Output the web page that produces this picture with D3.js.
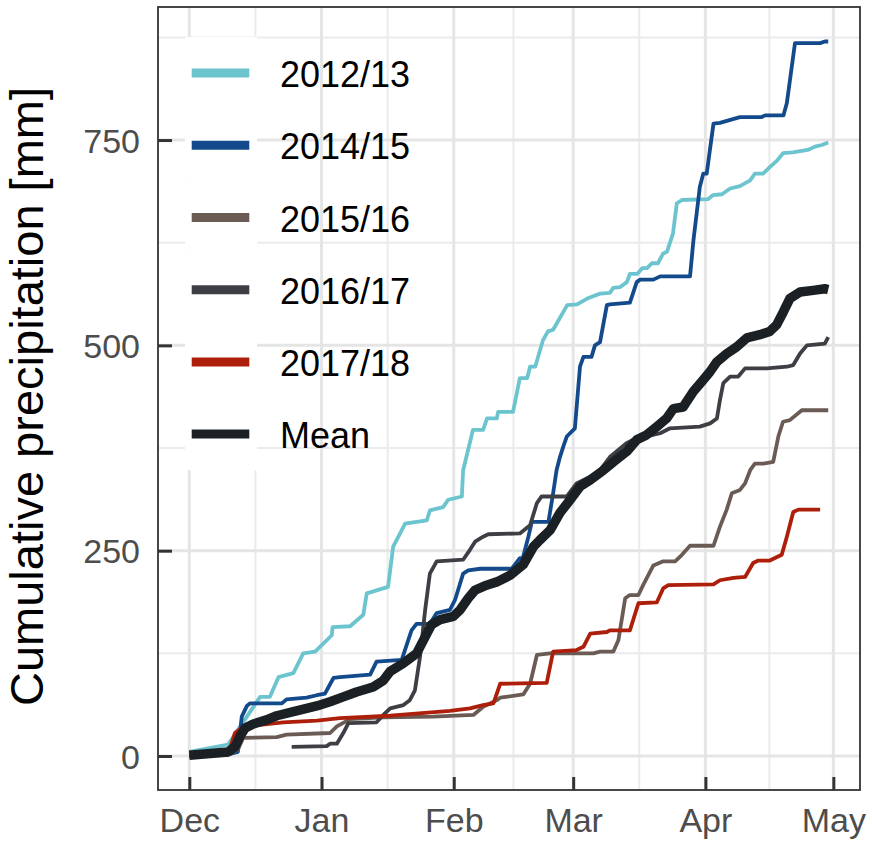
<!DOCTYPE html>
<html><head><meta charset="utf-8">
<script src="https://cdn.jsdelivr.net/npm/d3@7"></script>
<style>body{margin:0;background:#fff}</style>
</head><body>
<svg id="chart" width="872" height="848"></svg>
<script>
// ---- data (day = days since 1 December) ----
const monthTicks = ["2012-12-01","2013-01-01","2013-02-01","2013-03-01","2013-04-01","2013-05-01"];
const monthLabels = ["Dec","Jan","Feb","Mar","Apr","May"];
const yTicks = [0, 250, 500, 750];
const yMinor = [125, 375, 625, 875];
const seriesNames = ["2012/13","2014/15","2015/16","2016/17","2017/18","Mean"];
const seriesColors = ["#6cc4cf","#134a8c","#6b5b55","#3e3e45","#ad1f0b","#1b2025"];

const days1213 = [0,9.1,13.5,16.6,18.9,20.9,24.4,26.7,29.5,33.4,33.6,37.7,40.8,41.6,46.6,47.8,48.6,50.6,55.7,56.4,59.5,60.7,63.9,64.2,66.5,68.9,69.8,72.1,72.4,75.9,77.5,79.2,79.9,81.1,82.9,84.1,85.3,88.6,90.9,93.3,96.3,98.6,99.4,101,102.6,103.3,105,106.2,107.3,108.5,109.9,111.1,112,113.4,114.3,115.5,121.6,122.8,124.9,126.8,129.1,131.5,132.6,134.5,136.1,137.8,139.2,141.5,145,146.7,148.3,149.8];
const vals1213 = [5,14,48,72,72,96,101,125,127,147,157,158,172,198,206,255,263,283,287,299,303,312,316,348,397,397,411,411,419,419,460,460,474,474,506,517,519,549,550,557,563,564,570,571,577,587,587,594,594,600,600,612,614,636,673,677,678,683,684,691,694,701,709,709,717,725,734,735,738,742,744,747];

const days1415 = [0,9.1,11.4,12.3,13.5,14.2,21.7,22.8,27.5,29.9,31.8,33.8,35.3,42.4,43.9,49.8,52.1,53.3,56.4,58,61.1,62.3,64.2,65.4,68.2,75.6,77.5,78.2,79.5,80.3,84.2,85.3,86.1,86.9,87.7,88.5,90.4,91.6,92.4,94.3,95.1,96.3,97.9,98.6,103.3,104.9,105.7,108.8,110.4,117.4,118.2,119.7,120.5,121.3,122.9,124.4,129.1,134.2,135,139.3,140.1,142,147.9,149,149.8];
const vals1415 = [0,2,5,48,61,64,64,69,71,74,76,95,96,99,115,117,153,161,161,174,178,190,222,226,228,228,241,241,267,285,285,320,348,364,377,389,399,474,486,486,500,504,549,550,552,577,580,580,584,584,628,693,709,709,770,771,778,778,780,780,795,868,868,870,870];

const days1516 = [0,9.1,11.4,12.6,20.5,22.8,33,34.6,37.7,45.4,57.2,66.6,68.9,72.1,72.9,78.3,79.9,81.5,84.6,94.7,96.3,99.4,100.6,102.2,103.3,105.3,106.4,108.8,111.1,113.9,115.5,117.4,122.9,124.4,126,127.2,129.1,130.3,131.5,132.6,134.6,136.9,138.1,139.2,140.8,143.6,149.8];
const vals1516 = [0,2,8,22,23,26,28,36,45,47,48,50,60,68,71,75,88,123,125,125,127,127,141,192,196,196,208,232,237,237,245,256,256,279,300,320,324,332,348,356,356,358,389,407,409,421,421];

const days1617 = [24,32.2,33,34.6,36.1,37.3,43.9,45.5,47.1,50.2,51.7,52.9,54.1,55.3,56.4,58,64.2,65.8,67,68.9,70.1,77.5,79.9,81.5,82.6,88.5,90.8,94,96.3,98.6,102.5,104.1,107.2,110.4,112.7,119.7,122.1,123.7,124.4,125.2,126.8,128.7,130.3,135.4,140.1,141.6,143.2,144.8,149,149.8];
const vals1617 = [11,12,15,15,28,40,41,50,58,62,68,80,121,178,222,237,239,251,261,267,270,271,281,308,316,316,332,340,348,364,381,385,389,393,399,401,405,411,433,454,462,462,472,472,474,476,490,500,502,510];

const days1718 = [0,9.1,10.7,12.7,16.6,22,29.9,35.3,47.1,49.4,61.1,65.8,68.9,71.3,72.9,83.8,85.3,90.8,92.4,94,97.9,98.6,103.3,105.3,109.6,111.1,112.3,122.9,124.4,127.6,130.3,132.2,133.4,136.1,138.9,140.1,141.6,142.8,147.9];
const vals1718 = [0,2,28,36,38,41,43,46,49,50,55,58,62,64,88,89,127,129,133,149,151,153,153,186,187,204,208,209,214,217,218,235,238,238,245,267,297,300,300];

const daysMean = [0,9.1,10.7,11.9,13.1,15,18.1,20.5,24.4,27.5,30.6,33,36.1,39.2,43.1,45.5,47.1,50.2,53.3,55.3,56.8,58.8,61.9,63.5,65.4,67,69.7,72.1,75.2,78.3,80.7,82.2,84.6,86.9,89.3,91.6,94,97.1,99.4,102.6,104.9,107.2,109.6,111.9,113.5,115.8,118.2,120.5,122.1,123.7,126,128.3,130.7,133.8,136.1,137.7,139.3,140.8,143.2,146.3,149,149.8];
const valsMean = [1,5,11,24,34,39,44,49,54,58,62,66,72,78,84,92,103,113,125,145,160,166,170,178,192,202,208,212,220,233,255,263,275,296,312,328,336,348,358,371,385,391,401,411,423,425,444,458,468,480,490,498,509,513,517,525,541,557,565,567,569,568];

const seriesDays = [days1213, days1415, days1516, days1617, days1718, daysMean];
const seriesVals = [vals1213, vals1415, vals1516, vals1617, vals1718, valsMean];

// ---- layout ----
const W = 872, H = 848;
const panel = {left: 158, right: 860, top: 7, bottom: 790};
const DAY = 864e5;
const start = Date.UTC(2012, 11, 1);
const toDate = d => new Date(start + d * DAY);
const FONT = "'Liberation Sans', Arial, Helvetica, sans-serif";

const x = d3.scaleUtc()
  .domain([toDate(-7.34), toDate(157.25)])
  .range([panel.left, panel.right]);
const y = d3.scaleLinear()
  .domain([-41.4, 912])
  .range([panel.bottom, panel.top]);

const svg = d3.select("#chart");
svg.append("rect").attr("width", W).attr("height", H).attr("fill", "#fff");

const tickDates = monthTicks.map(s => new Date(s + "T00:00:00Z"));
const minorDates = tickDates.slice(0, -1).map((d, i) => new Date((+d + +tickDates[i + 1]) / 2));

const grid = svg.append("g");
// minor grid
grid.selectAll(".hmin").data(yMinor).join("line")
  .attr("x1", panel.left).attr("x2", panel.right)
  .attr("y1", d => y(d)).attr("y2", d => y(d))
  .attr("stroke", "#ebebeb").attr("stroke-width", 2);
grid.selectAll(".vmin").data(minorDates).join("line")
  .attr("x1", d => x(d)).attr("x2", d => x(d))
  .attr("y1", panel.top).attr("y2", panel.bottom)
  .attr("stroke", "#ebebeb").attr("stroke-width", 2);
// major grid
grid.selectAll(".hmaj").data(yTicks).join("line")
  .attr("x1", panel.left).attr("x2", panel.right)
  .attr("y1", d => y(d)).attr("y2", d => y(d))
  .attr("stroke", "#e5e5e5").attr("stroke-width", 3);
grid.selectAll(".vmaj").data(tickDates).join("line")
  .attr("x1", d => x(d)).attr("x2", d => x(d))
  .attr("y1", panel.top).attr("y2", panel.bottom)
  .attr("stroke", "#e5e5e5").attr("stroke-width", 3);

// ---- lines ----
const line = d3.line()
  .x(p => x(toDate(p[0])))
  .y(p => y(p[1]))
  .curve(d3.curveLinear);

const linesG = svg.append("g");
seriesNames.forEach((name, i) => {
  const pts = seriesDays[i].map((d, j) => [d, seriesVals[i][j]]);
  linesG.append("path")
    .attr("d", line(pts))
    .attr("fill", "none")
    .attr("stroke", seriesColors[i])
    .attr("stroke-width", name === "Mean" ? 9.5 : 3.8)
    .attr("stroke-linejoin", "round")
    .attr("stroke-linecap", "butt");
});

// ---- legend ----
const legend = svg.append("g");
const keyX = 185, keyW = 72, keyTop = 37, keyH = 72.2;
seriesNames.forEach((name, i) => {
  const cy = keyTop + keyH * i + keyH / 2;
  legend.append("rect")
    .attr("x", keyX).attr("y", keyTop + keyH * i)
    .attr("width", keyW).attr("height", keyH)
    .attr("fill", "#fff");
  legend.append("line")
    .attr("x1", 191.7).attr("x2", 249.3)
    .attr("y1", cy).attr("y2", cy)
    .attr("stroke", seriesColors[i])
    .attr("stroke-width", 9);
  legend.append("text")
    .attr("x", 280).attr("y", cy + 14)
    .attr("font-family", FONT).attr("font-size", 36)
    .attr("fill", "#000")
    .text(name);
});

// ---- axes ----
const yAxis = d3.axisLeft(y).tickValues(yTicks).tickSize(-14).tickPadding(18)
  .tickFormat(d3.format("d"));
const gy = svg.append("g").attr("transform", `translate(${panel.left},0)`).call(yAxis);
gy.select(".domain").remove();
gy.selectAll(".tick line").attr("stroke", "#333").attr("stroke-width", 3);
gy.selectAll(".tick text").attr("font-family", FONT).attr("font-size", 34)
  .attr("fill", "#4d4d4d").attr("dy", "0.36em").attr("x", -18);

const xAxis = d3.axisBottom(x).tickValues(tickDates).tickSize(-13)
  .tickFormat((d, i) => monthLabels[i]);
const gx = svg.append("g").attr("transform", `translate(0,${panel.bottom})`).call(xAxis);
gx.select(".domain").remove();
gx.selectAll(".tick line").attr("stroke", "#333").attr("stroke-width", 3);
gx.selectAll(".tick text").attr("font-family", FONT).attr("font-size", 34)
  .attr("fill", "#4d4d4d").attr("dy", null).attr("y", 42);

// panel border
svg.append("rect")
  .attr("x", panel.left).attr("y", panel.top)
  .attr("width", panel.right - panel.left).attr("height", panel.bottom - panel.top)
  .attr("fill", "none").attr("stroke", "#333").attr("stroke-width", 1.8);

// axis title
svg.append("text")
  .attr("transform", `translate(43,${(panel.top + panel.bottom) / 2 - 2}) rotate(-90)`)
  .attr("text-anchor", "middle")
  .attr("font-family", FONT).attr("font-size", 47)
  .attr("fill", "#000")
  .text("Cumulative precipitation [mm]");
</script>
</body></html>
